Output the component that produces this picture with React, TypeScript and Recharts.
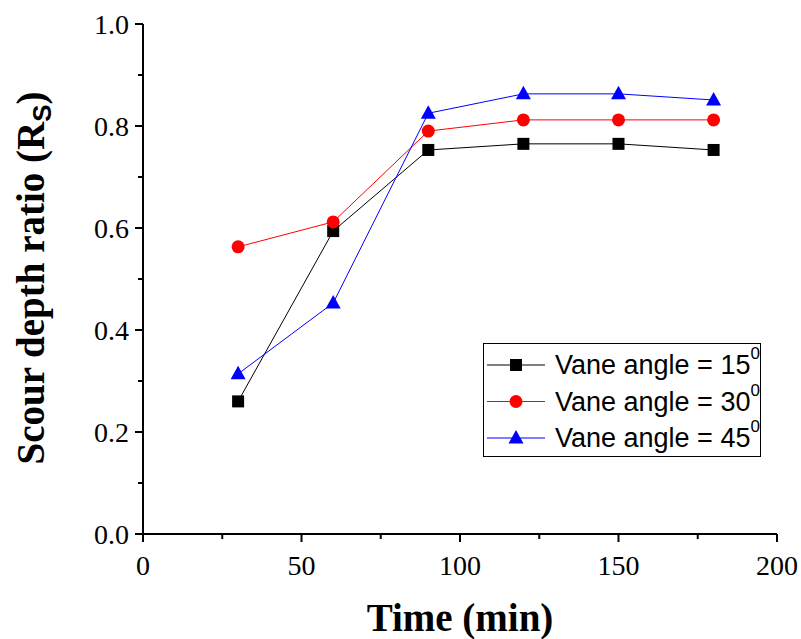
import { LineChart, Line, XAxis, YAxis, Legend, Label } from "recharts";

const times = [30, 60, 90, 120, 150, 180];
const vane15 = [0.26, 0.594, 0.753, 0.765, 0.765, 0.753];
const vane30 = [0.563, 0.612, 0.79, 0.812, 0.812, 0.812];
const vane45 = [0.314, 0.453, 0.825, 0.863, 0.863, 0.851];
const xTicks = [0, 25, 50, 75, 100, 125, 150, 175, 200];
const yTicks = [0, 0.1, 0.2, 0.3, 0.4, 0.5, 0.6, 0.7, 0.8, 0.9, 1.0];
const legendNames = ["Vane angle = 15", "Vane angle = 30", "Vane angle = 45"];
const legendSup = ["0", "0", "0"];

const data = times.map((t, i) => ({ t, a15: vane15[i], a30: vane30[i], a45: vane45[i] }));

const serif = "'Liberation Serif', 'Times New Roman', serif";
const sans = "'Liberation Sans', Arial, sans-serif";

function Square({ cx, cy, fill }: any) {
  return <rect x={cx - 6} y={cy - 6} width={12} height={12} fill={fill} />;
}
function Circle({ cx, cy, fill }: any) {
  return <circle cx={cx} cy={cy} r={6.5} fill={fill} />;
}
function Triangle({ cx, cy, fill }: any) {
  return <polygon points={`${cx},${cy - 8} ${cx - 7.5},${cy + 5.5} ${cx + 7.5},${cy + 5.5}`} fill={fill} />;
}

const isMajorX = (v: number) => v % 50 === 0;
const isMajorY = (v: number) => Math.round(v * 10) % 2 === 0;

function BottomTick({ x, y, payload }: any) {
  const major = isMajorX(payload.value);
  return (
    <g>
      <line x1={x} x2={x} y1={y} y2={y + (major ? 8 : 5)} stroke="#000" strokeWidth={2} />
      {major && (
        <text x={x} y={y + 41} textAnchor="middle" fontFamily={serif} fontSize={28} style={{ fontFamily: serif, fontSize: 28 }} fill="#000">
          {payload.value}
        </text>
      )}
    </g>
  );
}
function TopTick({ x, y, payload }: any) {
  const major = isMajorX(payload.value);
  return <line x1={x} x2={x} y1={y} y2={y + (major ? 8 : 5)} stroke="#000" strokeWidth={2} />;
}
function LeftTick({ x, y, payload }: any) {
  const major = isMajorY(payload.value);
  return (
    <g>
      <line x1={x} x2={x - (major ? 8 : 5)} y1={y} y2={y} stroke="#000" strokeWidth={2} />
      {major && (
        <text x={x - 14} y={y + 10} textAnchor="end" fontFamily={serif} fontSize={28} style={{ fontFamily: serif, fontSize: 28 }} fill="#000">
          {payload.value.toFixed(1)}
        </text>
      )}
    </g>
  );
}
function RightTick({ x, y, payload }: any) {
  const major = isMajorY(payload.value);
  return <line x1={x} x2={x - (major ? 8 : 5)} y1={y} y2={y} stroke="#000" strokeWidth={2} />;
}

function YTitle() {
  const cx = 44;
  const cy = 278;
  return (
    <text
      x={cx}
      y={cy}
      transform={`rotate(-90 ${cx} ${cy})`}
      textAnchor="middle"
      style={{ fontFamily: serif, fontWeight: "bold", fontSize: 39 }}
      fill="#000"
    >
      Scour depth ratio (R
      <tspan style={{ fontFamily: sans, fontSize: 26 }} dy={7}>S</tspan>
      <tspan dy={-7}>)</tspan>
    </text>
  );
}

function XTitle({ viewBox }: any) {
  return (
    <text
      x={viewBox.x + viewBox.width / 2}
      y={631}
      textAnchor="middle"
      style={{ fontFamily: serif, fontWeight: "bold", fontSize: 39 }}
      fill="#000"
    >
      Time (min)
    </text>
  );
}

const legendItems = [
  { color: "#000000", Marker: Square },
  { color: "#ff0000", Marker: Circle },
  { color: "#0000ff", Marker: Triangle },
];

function LegendBox() {
  return (
    <svg width={278} height={114} style={{ display: "block" }}>
      <rect x={0.5} y={0.5} width={277} height={113} fill="#fff" stroke="#000" strokeWidth={1} />
      {legendItems.map(({ color, Marker }, i) => {
        const cy = 22 + i * 36.5;
        return (
          <g key={i}>
            <line x1={4} x2={62} y1={cy} y2={cy} stroke={color} strokeWidth={1} />
            <Marker cx={33} cy={cy} fill={color} />
            <text x={72} y={cy + 9} style={{ fontFamily: sans, fontSize: 27 }} fill="#000">
              {legendNames[i]}
              <tspan style={{ fontSize: 17 }} dy={-15}>{legendSup[i]}</tspan>
            </text>
          </g>
        );
      })}
    </svg>
  );
}

export default function App() {
  return (
    <div style={{ position: "absolute", left: 0, top: 0, background: "#fff" }}>
      <LineChart width={801} height={639} data={data} margin={{ top: 24, right: 24, bottom: 0, left: 0 }}>
        <XAxis
          xAxisId="bottom"
          dataKey="t"
          type="number"
          domain={[0, 200]}
          ticks={xTicks}
          interval={0}
          height={105}
          tickSize={0}
          tickMargin={0}
          tickLine={false}
          axisLine={{ stroke: "#000", strokeWidth: 2 }}
          tick={BottomTick}
        >
          <Label content={XTitle} />
        </XAxis>
        <XAxis
          xAxisId="top"
          orientation="top"
          dataKey="t"
          type="number"
          domain={[0, 200]}
          ticks={xTicks}
          interval={0}
          height={0}
          tickSize={0}
          tickMargin={0}
          tickLine={false}
          axisLine={{ stroke: "#000", strokeWidth: 2 }}
          tick={TopTick}
        />
        <YAxis
          yAxisId="left"
          type="number"
          domain={[0, 1]}
          ticks={yTicks}
          interval={0}
          width={143}
          tickSize={0}
          tickMargin={0}
          tickLine={false}
          axisLine={{ stroke: "#000", strokeWidth: 2 }}
          tick={LeftTick}
        >
          <Label content={YTitle} />
        </YAxis>
        <YAxis
          yAxisId="right"
          orientation="right"
          type="number"
          domain={[0, 1]}
          ticks={yTicks}
          interval={0}
          width={0}
          tickSize={0}
          tickMargin={0}
          tickLine={false}
          axisLine={{ stroke: "#000", strokeWidth: 2 }}
          tick={RightTick}
        />
        <Legend
          layout="horizontal"
          verticalAlign="middle"
          align="center"
          content={LegendBox}
          wrapperStyle={{ position: "absolute", left: 483, top: 343, width: 278, height: 114 }}
        />
        <Line
          xAxisId="bottom"
          yAxisId="left"
          dataKey="a15"
          stroke="#000000"
          strokeWidth={1}
          dot={(p: any) => <Square key={`s${p.index}`} cx={p.cx} cy={p.cy} fill="#000000" />}
          activeDot={false}
          isAnimationActive={false}
        />
        <Line
          xAxisId="bottom"
          yAxisId="left"
          dataKey="a30"
          stroke="#ff0000"
          strokeWidth={1}
          dot={(p: any) => <Circle key={`c${p.index}`} cx={p.cx} cy={p.cy} fill="#ff0000" />}
          activeDot={false}
          isAnimationActive={false}
        />
        <Line
          xAxisId="bottom"
          yAxisId="left"
          dataKey="a45"
          stroke="#0000ff"
          strokeWidth={1}
          dot={(p: any) => <Triangle key={`t${p.index}`} cx={p.cx} cy={p.cy} fill="#0000ff" />}
          activeDot={false}
          isAnimationActive={false}
        />
      </LineChart>
    </div>
  );
}
